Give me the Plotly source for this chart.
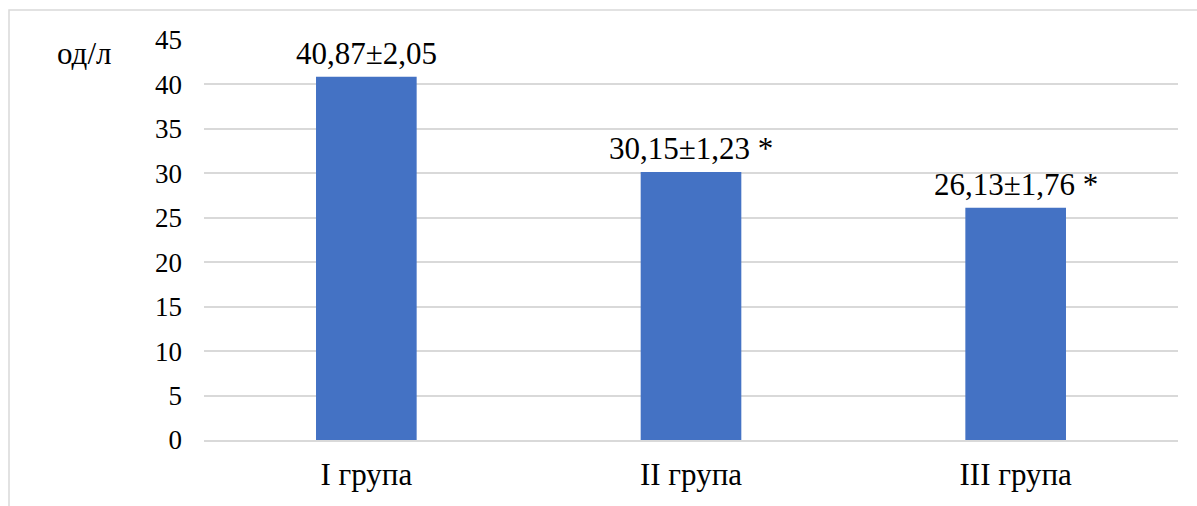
import plotly.graph_objects as go

# Group data
groups = ["I група", "II група", "III група"]
means = [40.87, 30.15, 26.13]
errors = [2.05, 1.23, 1.76]
marks = ["", " *", " *"]
y_ticks = [0, 5, 10, 15, 20, 25, 30, 35, 40, 45]
y_unit = "од/л"

FONT = "Liberation Serif"
W, H = 1197, 506
L, R, T, B = 204, 19, 40, 66
plot_w = W - L - R
plot_h = H - T - B


def fmt(v):
    return f"{v:.2f}".replace(".", ",")


fig = go.Figure()
fig.add_trace(go.Bar(
    x=groups,
    y=means,
    marker=dict(color="#4472C4", line=dict(width=0)),
    width=0.31,
    hoverinfo="skip",
))

# Value labels above bars
for g, m, e, s in zip(groups, means, errors, marks):
    fig.add_annotation(
        x=g, y=m, xref="x", yref="y",
        text=f"{fmt(m)}±{fmt(e)}{s}",
        showarrow=False, yanchor="bottom", xanchor="center",
        yshift=4,
        font=dict(family=FONT, size=31, color="#000000"),
    )

# Unit label at the top left
fig.add_annotation(
    x=(55 - L) / plot_w, y=43.5, xref="paper", yref="y",
    text=y_unit, showarrow=False, xanchor="left", yanchor="middle",
    font=dict(family=FONT, size=31, color="#000000"),
)

# Outer frame
fig.add_shape(
    type="rect", xref="paper", yref="paper",
    x0=(9 - L) / plot_w, x1=(W + 20 - L) / plot_w,
    y0=-(B + 20) / plot_h, y1=1 + (T - 10) / plot_h,
    line=dict(color="#d9d9d9", width=1.5), fillcolor="rgba(0,0,0,0)",
    layer="below",
)

fig.update_layout(
    width=W, height=H,
    margin=dict(l=L, r=R, t=T, b=B),
    paper_bgcolor="white", plot_bgcolor="white",
    showlegend=False,
    font=dict(family=FONT, color="#000000"),
)
fig.update_yaxes(
    range=[0, 45], tickvals=y_ticks,
    showgrid=True, gridcolor="#d9d9d9", gridwidth=1.5,
    zeroline=False, showline=False, automargin=False,
    tickfont=dict(family=FONT, size=27, color="#000000"),
    ticklabelstandoff=21,
)
fig.update_xaxes(
    showgrid=False, showline=True, linecolor="#d9d9d9", linewidth=1.5,
    automargin=False,
    tickfont=dict(family=FONT, size=31, color="#000000"),
    ticklabelstandoff=6,
)

fig.write_html("out.html")
